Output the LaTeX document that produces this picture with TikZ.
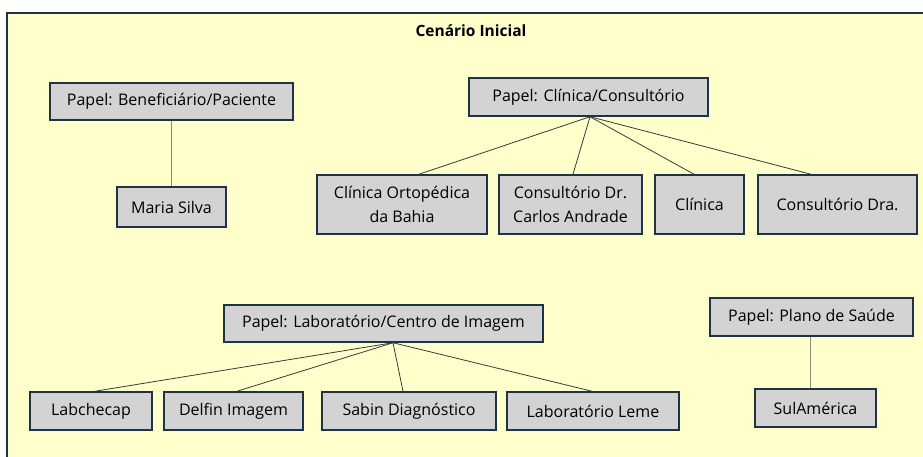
\documentclass[tikz,border=0pt]{standalone}
\usepackage{fontspec}
\setmainfont{Open Sans}
\definecolor{fundo}{HTML}{FFFFCC}
\definecolor{borda}{HTML}{1E3444}
\definecolor{cinza}{HTML}{D3D3D3}
\definecolor{linha}{HTML}{3A3A3A}
\definecolor{linhav}{HTML}{8A8A7A}
\tikzset{
 caixa/.style={draw=borda, fill=cinza, line width=1.5pt, inner sep=0pt, align=center,
  font=\fontsize{16}{24}\selectfont},
 liga/.style={draw=linha, line width=.8pt},
 ligav/.style={draw=linhav, line width=1pt}
}
\begin{document}
\begin{tikzpicture}[x=1pt,y=-1pt]
 \useasboundingbox (0,0) rectangle (923,457);
 \draw[fill=fundo, draw=borda, line width=2pt] (7,13) rectangle (940,470);
 \node[font=\bfseries\fontsize{15.5}{18}\selectfont] (titulo) at (471,31) {Cenário Inicial};
 % beneficiario
 \node[caixa, minimum width=243, minimum height=37] (benef) at (171.5,101.5) {Papel: Beneficiário/Paciente};
 \node[caixa, minimum width=109, minimum height=40] (maria) at (171.5,207) {Maria Silva};
 \draw[ligav] (benef.south) -- (maria.north);
 % clinica / consultorio
 \node[caixa, minimum width=239, minimum height=38] (clin) at (588.5,97) {Papel: Clínica/Consultório};
 \node[caixa, minimum width=170, minimum height=59] (orto) at (402,204.5) {Clínica Ortopédica\\da Bahia};
 \node[caixa, minimum width=143, minimum height=59] (dr) at (570.5,204.5) {Consultório Dr.\\Carlos Andrade};
 \node[caixa, minimum width=89, minimum height=59] (cli) at (699.5,204.5) {Clínica};
 \node[caixa, minimum width=159, minimum height=59] (dra) at (837.5,204.5) {Consultório Dra.};
 \foreach \f/\d in {orto/17,dr/2.5,cli/-5.5,dra/-26.5}
  \draw[liga] ([xshift=1.5]clin.south) -- ([xshift=\d]\f.north);
 % laboratorio / centro de imagem
 \node[caixa, minimum width=319, minimum height=37] (lab) at (383.5,323.5) {Papel: Laboratório/Centro de Imagem};
 \node[caixa, minimum width=122, minimum height=38] (labche) at (91,411) {Labchecap};
 \node[caixa, minimum width=139, minimum height=38] (delfin) at (233.5,411) {Delfin Imagem};
 \node[caixa, minimum width=174, minimum height=38] (sabin) at (409,411) {Sabin Diagnóstico};
 \node[caixa, minimum width=172, minimum height=38] (leme) at (593,411) {Laboratório Leme};
 \foreach \f/\d in {labche/4,delfin/3.5,sabin/-6,leme/-1}
  \draw[liga] ([xshift=9.5]lab.south) -- ([xshift=\d]\f.north);
 % plano de saude
 \node[caixa, minimum width=203, minimum height=38] (plano) at (811.5,317) {Papel: Plano de Saúde};
 \node[caixa, minimum width=121, minimum height=38] (sul) at (815.5,408) {SulAmérica};
 \draw[ligav] ([xshift=-1.5]plano.south) -- ([xshift=-5.5]sul.north);
\end{tikzpicture}
\end{document}
